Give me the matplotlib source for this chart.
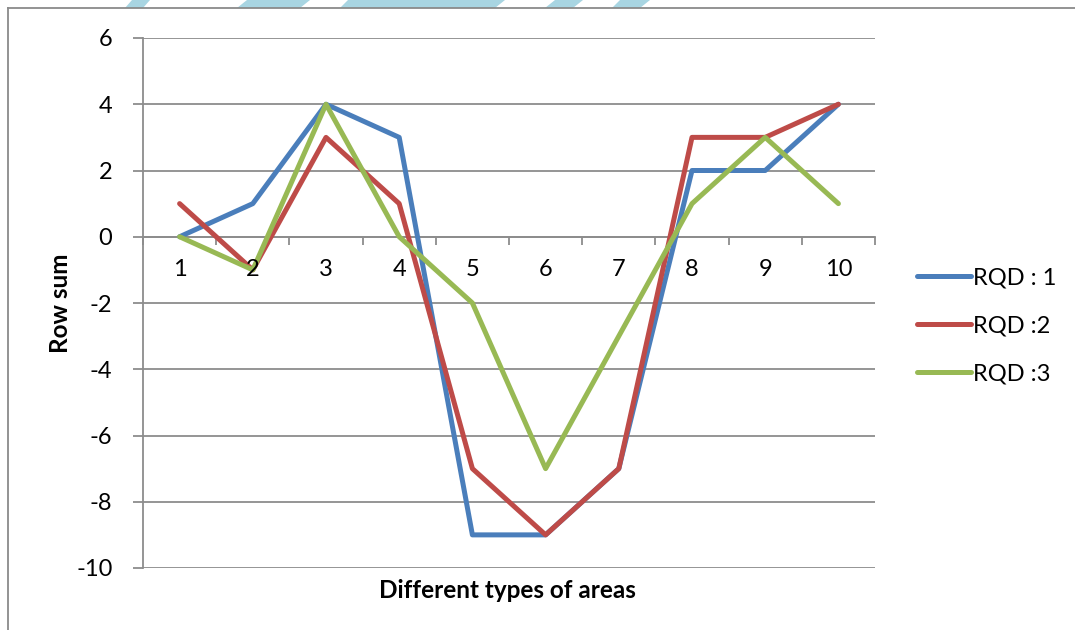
import matplotlib.pyplot as plt
import matplotlib.patches as mpatches
from matplotlib.lines import Line2D

plt.rcParams["font.family"] = ["Lato", "DejaVu Sans"]

# chart data
categories = [1, 2, 3, 4, 5, 6, 7, 8, 9, 10]
rqd_1 = [0, 1, 4, 3, -9, -9, -7, 2, 2, 4]
rqd_2 = [1, -1, 3, 1, -7, -9, -7, 3, 3, 4]
rqd_3 = [0, -1, 4, 0, -2, -7, -3, 1, 3, 1]
series_labels = ["RQD : 1", "RQD :2", "RQD :3"]
y_ticks = [-10, -8, -6, -4, -2, 0, 2, 4, 6]

colors = ["#4A7EBB", "#BE4B48", "#98B954"]
grid_c = "#8C8C8C"

fig = plt.figure(figsize=(10.75, 6.3), dpi=100)
ax = fig.add_axes([143 / 1075, 1 - 568 / 630, 732 / 1075, 530 / 630])

# faint watermark pieces peeking in at the top edge
for xs in [(132, 150, 143, 125), (247, 310, 300, 237), (348, 505, 495, 340),
           (555, 583, 573, 545), (620, 650, 640, 612)]:
    pts = [(xs[0] / 1075, 1), (xs[1] / 1075, 1), (xs[2] / 1075, 1 - 8 / 630),
           (xs[3] / 1075, 1 - 8 / 630)]
    fig.patches.append(mpatches.Polygon(pts, closed=True, transform=fig.transFigure,
                                        color="#A8D5E2", lw=0, zorder=0))

# outer frame of the chart object
fig.add_artist(Line2D([8 / 1075, 8 / 1075], [0, 1 - 8 / 630], color="#8A8A8A",
                      lw=1.3, transform=fig.transFigure))
fig.add_artist(Line2D([8 / 1075, 1], [1 - 8 / 630, 1 - 8 / 630], color="#8A8A8A",
                      lw=1.3, transform=fig.transFigure))

for vals, lab, c in zip([rqd_1, rqd_2, rqd_3], series_labels, colors):
    ax.plot(categories, vals, color=c, lw=3.6, label=lab,
            solid_joinstyle="round", solid_capstyle="round", zorder=3)

ax.set_xlim(0.5, 10.5)
ax.set_ylim(-10, 6)
ax.set_yticks(y_ticks)
ax.set_yticklabels([str(v) for v in y_ticks], fontsize=17)
ax.yaxis.grid(True, color=grid_c, lw=1.3)
ax.set_axisbelow(True)

for s in ["top", "right"]:
    ax.spines[s].set_visible(False)
ax.spines["left"].set_color(grid_c)
ax.spines["left"].set_linewidth(1.3)
ax.spines["bottom"].set_position(("data", 0))
ax.spines["bottom"].set_color(grid_c)
ax.spines["bottom"].set_linewidth(1.3)

ax.tick_params(axis="y", length=7, width=1.3, color=grid_c, pad=15)
ax.set_xticks([c + 0.5 for c in [0] + categories])
ax.set_xticklabels([])
ax.tick_params(axis="x", length=6, width=1.3, color=grid_c, direction="out")
for c in categories:
    ax.text(c, -1.0, str(c), ha="center", va="center", fontsize=17)

fig.text(60 / 1075, 1 - 303 / 630, "Row sum", rotation=90, ha="center", va="center",
         fontsize=17.5, fontweight="bold")
fig.text(507 / 1075, 1 - 590 / 630, "Different types of areas", ha="center",
         va="center", fontsize=17.5, fontweight="bold")

fig.legend(loc="upper left", bbox_to_anchor=(908 / 1075, 1 - 258 / 630), frameon=False,
           fontsize=17, handlelength=2.25, handletextpad=0.1, labelspacing=1.15,
           borderaxespad=0)

fig.savefig("out.png", dpi=100)
